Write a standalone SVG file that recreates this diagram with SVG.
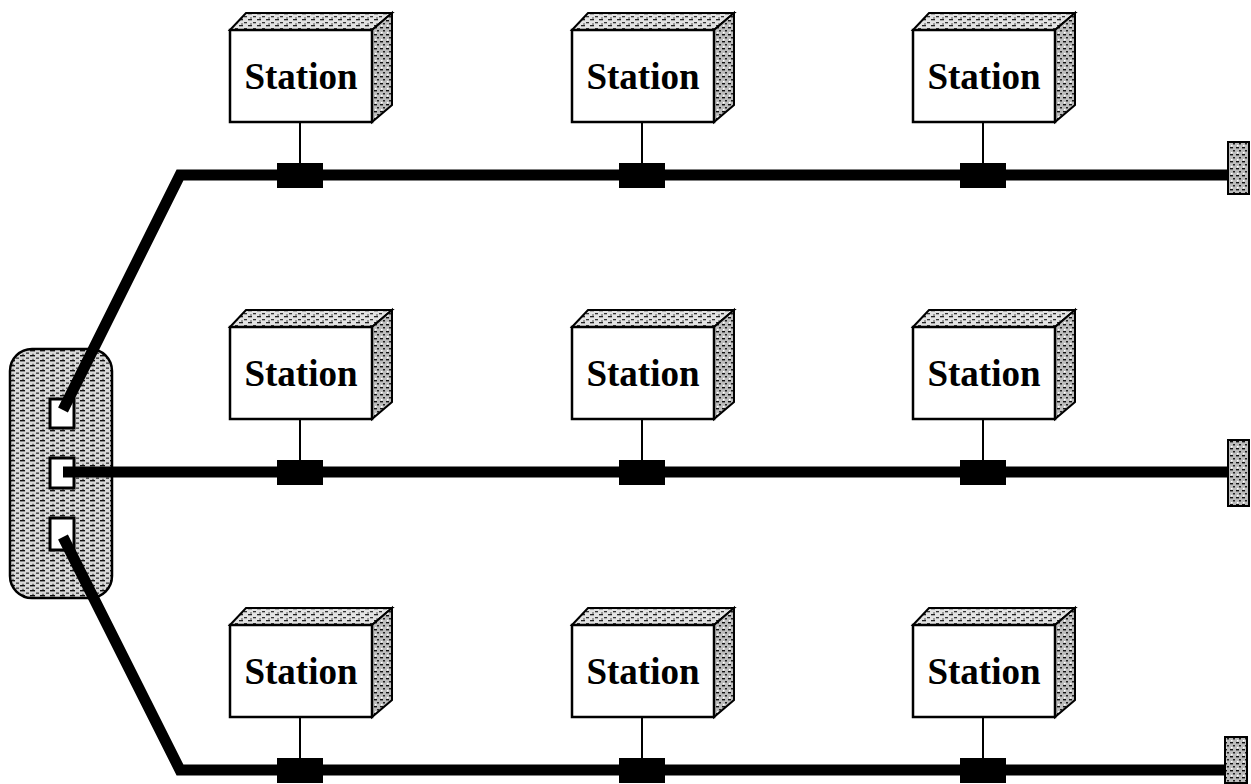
<svg xmlns="http://www.w3.org/2000/svg" width="1251" height="784" viewBox="0 0 1251 784">
<defs>
<pattern id="dith" width="9" height="6" patternUnits="userSpaceOnUse">
<rect width="9" height="6" fill="#e2e2e2"/>
<rect x="0" y="0" width="4" height="1.3" fill="#222"/>
<rect x="5" y="3" width="3" height="1.3" fill="#333"/>
<rect x="2" y="4.5" width="2" height="1" fill="#555"/>
</pattern>
<pattern id="dith2" width="6" height="7" patternUnits="userSpaceOnUse">
<rect width="6" height="7" fill="#bdbdbd"/>
<rect x="0" y="0" width="3" height="1.4" fill="#111"/>
<rect x="3" y="3" width="2" height="1.5" fill="#222"/>
<rect x="1" y="5" width="1.5" height="1.5" fill="#fff"/>
</pattern>
<pattern id="dith3" width="10" height="5" patternUnits="userSpaceOnUse">
<rect width="10" height="5" fill="#d8d8d8"/>
<rect x="0" y="0" width="5" height="1.4" fill="#111"/>
<rect x="6" y="2.5" width="3" height="1.3" fill="#333"/>
<rect x="2" y="3.8" width="2" height="1" fill="#666"/>
</pattern>
<g id="station">
<polygon points="0,17 16,0 162,0 142,17" fill="url(#dith)" stroke="#000" stroke-width="2"/>
<polygon points="142,17 162,0 162,92 142,109" fill="url(#dith2)" stroke="#000" stroke-width="2"/>
<rect x="0" y="17" width="142" height="92" fill="#fff" stroke="#000" stroke-width="2.5"/>
<text x="71" y="76" class="lbl">Station</text>
<line x1="70" y1="109" x2="70" y2="152" stroke="#000" stroke-width="2"/>
<rect x="47" y="150" width="46" height="25" fill="#000"/>
</g>
</defs>
<style>
.lbl{font-family:"Liberation Serif","Times New Roman",serif;font-weight:bold;font-size:37px;text-anchor:middle;fill:#000}
.bus{fill:none;stroke:#000;stroke-width:11;stroke-linejoin:miter}
.term{fill:url(#dith2);stroke:#000;stroke-width:2}
</style>
<g id="hub">
<rect x="10" y="349" width="102" height="249" rx="22" fill="url(#dith3)" stroke="#000" stroke-width="2.5"/>
<rect x="50" y="399" width="24" height="29" fill="#fff" stroke="#000" stroke-width="3"/>
<rect x="50" y="458" width="24" height="30" fill="#fff" stroke="#000" stroke-width="3"/>
<rect x="50" y="518" width="24" height="32" fill="#fff" stroke="#000" stroke-width="3"/>
</g>
<g id="connectors">
<polyline class="bus" points="63,410 180,175 1228,175"/>
<polyline class="bus" points="63,472 1228,472"/>
<polyline class="bus" points="63,537 180,770 1228,770"/>
</g>
<g id="term1"><rect class="term" x="1228" y="142" width="21" height="52"/></g>
<g id="term2"><rect class="term" x="1228" y="440" width="21" height="66"/></g>
<g id="term3"><rect class="term" x="1225" y="737" width="22" height="46"/></g>
<g id="station-1-1"><use href="#station" x="230" y="13"/></g>
<g id="station-1-2"><use href="#station" x="572" y="13"/></g>
<g id="station-1-3"><use href="#station" x="913" y="13"/></g>
<g id="station-2-1"><use href="#station" x="230" y="310"/></g>
<g id="station-2-2"><use href="#station" x="572" y="310"/></g>
<g id="station-2-3"><use href="#station" x="913" y="310"/></g>
<g id="station-3-1"><use href="#station" x="230" y="608"/></g>
<g id="station-3-2"><use href="#station" x="572" y="608"/></g>
<g id="station-3-3"><use href="#station" x="913" y="608"/></g>
</svg>
